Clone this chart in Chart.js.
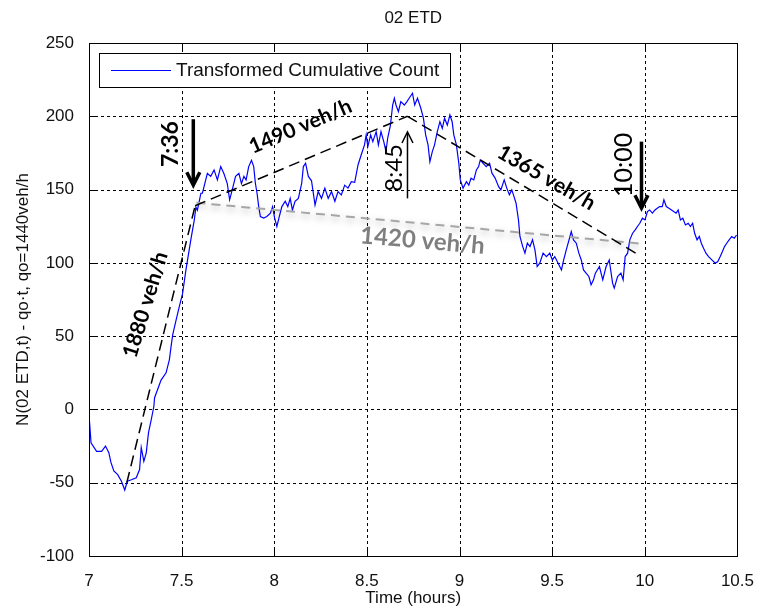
<!DOCTYPE html>
<html><head><meta charset="utf-8">
<script src="https://cdn.jsdelivr.net/npm/chart.js@4.4.1/dist/chart.umd.min.js"></script>
<style>html,body{margin:0;padding:0;background:#fff}#wrap{width:761px;height:610px}</style>
</head><body><div id="wrap"><canvas id="c" width="761" height="610"></canvas></div>
<script>
// ---- data ----
const hours = [7.000,7.002,7.011,7.041,7.068,7.089,7.107,7.118,7.134,7.155,
7.175,7.193,7.207,7.229,7.255,7.273,7.282,7.296,7.309,7.321,
7.336,7.350,7.354,7.389,7.416,7.434,7.443,7.452,7.470,7.487,
7.505,7.523,7.532,7.550,7.568,7.577,7.585,7.595,7.604,7.612,
7.621,7.630,7.639,7.657,7.675,7.693,7.711,7.728,7.746,7.759,
7.773,7.791,7.809,7.823,7.836,7.848,7.862,7.877,7.889,7.898,
7.907,7.916,7.925,7.943,7.960,7.979,7.991,8.002,8.014,8.027,
8.041,8.059,8.073,8.086,8.098,8.112,8.130,8.148,8.157,8.169,
8.184,8.201,8.220,8.237,8.255,8.273,8.291,8.309,8.327,8.344,
8.362,8.380,8.398,8.416,8.434,8.452,8.469,8.487,8.496,8.505,
8.520,8.532,8.550,8.562,8.576,8.591,8.603,8.612,8.627,8.639,
8.648,8.657,8.670,8.683,8.702,8.716,8.728,8.746,8.758,8.773,
8.791,8.805,8.817,8.830,8.840,8.853,8.865,8.880,8.894,8.907,
8.919,8.934,8.948,8.960,8.969,8.983,8.996,9.004,9.019,9.037,
9.050,9.062,9.077,9.091,9.103,9.112,9.126,9.144,9.162,9.175,
9.192,9.211,9.223,9.241,9.255,9.269,9.282,9.294,9.305,9.318,
9.326,9.341,9.353,9.366,9.380,9.394,9.407,9.419,9.433,9.451,
9.469,9.487,9.501,9.514,9.532,9.550,9.562,9.576,9.591,9.603,
9.615,9.630,9.644,9.657,9.669,9.683,9.698,9.710,9.723,9.733,
9.755,9.773,9.791,9.808,9.826,9.835,9.853,9.871,9.883,9.894,
9.907,9.919,9.934,9.948,9.960,9.973,9.987,10.001,10.014,10.026,
10.041,10.055,10.067,10.080,10.094,10.103,10.116,10.130,10.144,10.169,
10.180,10.192,10.205,10.219,10.234,10.246,10.258,10.269,10.282,10.294,
10.305,10.317,10.330,10.344,10.362,10.380,10.394,10.407,10.419,10.430,
10.442,10.455,10.469,10.483,10.495];
const counts = [-4,-7,-22.7,-28.6,-28.6,-25,-29.5,-36,-42,-44.5,
-49,-55,-49,-48,-46.6,-41,-26,-35.5,-29.6,-16,
-7,2,8,20,25,34,43,51,61,70,
79,95,102,116,129,138,136,142,147.5,147.5,
152,156.6,161,159,163.4,156.6,165.7,161,154.3,143,
149.8,159,161,154,159,156.6,165.7,170,165.7,154.3,
147.5,138.4,131.6,130.5,131.6,133.9,138.4,130.5,124.8,131.6,
138.4,142,138.4,144,136,142,144,154.3,165.7,168,
159,156,139.5,148.6,144,151,144,148.6,142,148.6,
146.4,153,151,155.4,155,166.8,173.6,180.5,187.3,179.3,
187.3,182.7,189.5,180.5,189.5,182.7,175.9,185,194,207.7,
212.3,207.7,203.2,210,207.7,210,212.3,215.7,207.7,212.3,
205.5,198.7,187.3,180.5,169,175.9,180.5,189.5,196.3,191.8,
198.7,194,200.9,196.3,187.3,180.5,168,156.6,151,155.4,
153,157.8,156.6,163.4,165.7,170.2,168,165.7,168,161.2,
157.8,152,149.8,156.6,151,146.4,149.8,145.2,140.7,129.3,
118,111.1,106.6,113.4,111.1,115.7,108.9,97.5,99.8,106.6,
104.3,106.6,102,104.3,99.8,95.2,102,108.9,115.7,121.4,
115.7,113.4,106.6,102,95.2,93,90.7,85,88.4,93,
97.5,88.4,97.5,102,86.2,82.8,90.7,93,88.4,104.3,
106.6,115.7,120.2,122.5,124.8,127,130.5,129.3,135,136.1,
133.9,136.1,137.3,138.4,138.4,143,138.4,137.3,136.1,133.9,
136.1,129.3,130.5,125.9,127,124.8,127,120.2,115.7,118,
113.4,110,106.6,104.3,102,99.8,100.9,104.3,107.7,111.1,
113.4,115.7,118,116.8,119];

const xTickValues = [7,7.5,8,8.5,9,9.5,10,10.5];
const xTickLabels = ['7','7.5','8','8.5','9','9.5','10','10.5'];
const yTickValues = [-100,-50,0,50,100,150,200,250];
const yTickLabels = ['-100','-50','0','50','100','150','200','250'];

// fitted flow lines (hours, counts)
const fit1880Hours = [7.204, 7.573], fit1880Counts = [-50, 139];
const fit1490Hours = [7.573, 8.719], fit1490Counts = [139, 200];
const fit1365Hours = [8.719, 9.951], fit1365Counts = [200, 106.6];
const fit1420Hours = [7.58, 9.99],   fit1420Counts = [141, 113];

const chartTitle = '02 ETD';
const xAxisTitle = 'Time (hours)';
const yAxisTitle = 'N(02 ETD,t) - qo\u00b7t, qo=1440veh/h';
const legendLabel = 'Transformed Cumulative Count';

const toPts = (h, c) => h.map((v, i) => ({x: v, y: c[i]}));

const AX = '"Liberation Sans", Arial, sans-serif';
const CAL = 'Lato, "Open Sans", sans-serif';

const deco = {
  id: 'deco',
  beforeDatasetsDraw(chart) {
    const {ctx, chartArea: a, scales: {x, y}} = chart;
    ctx.save();
    ctx.strokeStyle = '#000';
    ctx.lineWidth = 1;
    ctx.setLineDash([3, 3]);
    xTickValues.forEach(v => {
      if (v === 7 || v === 10.5) return;
      const px = Math.round(x.getPixelForValue(v)) + 0.5;
      ctx.beginPath(); ctx.moveTo(px, a.top); ctx.lineTo(px, a.bottom); ctx.stroke();
    });
    yTickValues.forEach(v => {
      if (v === -100 || v === 250) return;
      const py = Math.round(y.getPixelForValue(v)) + 0.5;
      ctx.beginPath(); ctx.moveTo(a.left, py); ctx.lineTo(a.right, py); ctx.stroke();
    });
    ctx.restore();
  },
  beforeDatasetDraw(chart, args) {
    if (args.index === 2) {
      const ctx = chart.ctx;
      ctx.save();
      ctx.shadowColor = 'rgba(0,0,0,0.35)';
      ctx.shadowBlur = 7;
      ctx.shadowOffsetY = 3;
    }
  },
  afterDatasetDraw(chart, args) {
    if (args.index === 2) chart.ctx.restore();
  },
  afterDatasetsDraw(chart) {
    const {ctx, chartArea: a, scales: {x, y}} = chart;
    ctx.save();
    // box
    ctx.strokeStyle = '#000';
    ctx.lineWidth = 1;
    ctx.setLineDash([]);
    ctx.strokeRect(Math.round(a.left) + 0.5, Math.round(a.top) + 0.5, Math.round(a.right - a.left), Math.round(a.bottom - a.top));
    // inward ticks
    const tl = 6;
    ctx.beginPath();
    xTickValues.forEach(v => {
      const px = Math.round(x.getPixelForValue(v)) + 0.5;
      ctx.moveTo(px, a.bottom); ctx.lineTo(px, a.bottom - tl);
      ctx.moveTo(px, a.top); ctx.lineTo(px, a.top + tl);
    });
    yTickValues.forEach(v => {
      const py = Math.round(y.getPixelForValue(v)) + 0.5;
      ctx.moveTo(a.left, py); ctx.lineTo(a.left + tl, py);
      ctx.moveTo(a.right, py); ctx.lineTo(a.right - tl, py);
    });
    ctx.stroke();

    // legend
    const lx = 99, ly = 53, lw = 351, lh = 34;
    ctx.fillStyle = '#fff';
    ctx.fillRect(lx, ly, lw, lh);
    ctx.strokeStyle = '#000';
    ctx.strokeRect(lx + 0.5, ly + 0.5, lw, lh);
    ctx.strokeStyle = '#0000ff';
    ctx.lineWidth = 1.2;
    ctx.beginPath(); ctx.moveTo(111, ly + 17.5); ctx.lineTo(171, ly + 17.5); ctx.stroke();
    ctx.fillStyle = '#111';
    ctx.font = '19px ' + AX;
    ctx.textAlign = 'left'; ctx.textBaseline = 'middle';
    ctx.fillText(legendLabel, 176, ly + 18);

    // arrows
    const arrow = (h, from, to, w, hw, hl) => {
      const px = x.getPixelForValue(h), p0 = y.getPixelForValue(from), p1 = y.getPixelForValue(to);
      const dir = p1 > p0 ? 1 : -1;
      ctx.strokeStyle = '#000'; ctx.lineWidth = w; ctx.lineCap = 'butt'; ctx.lineJoin = 'miter';
      ctx.beginPath(); ctx.moveTo(px, p0); ctx.lineTo(px, p1 - dir * w * 0.6); ctx.stroke();
      ctx.beginPath(); ctx.moveTo(px - hw, p1 - dir * hl); ctx.lineTo(px, p1); ctx.lineTo(px + hw, p1 - dir * hl); ctx.stroke();
    };
    arrow(7.563, 198, 153, 3.5, 6.5, 13);
    arrow(9.982, 182.7, 137.3, 3.5, 6.5, 13);
    arrow(8.719, 144, 189.3, 1.5, 5.5, 11);

    // labels
    const label = (txt, h, c, deg, font, color) => {
      ctx.save();
      ctx.translate(x.getPixelForValue(h), y.getPixelForValue(c));
      ctx.rotate(deg * Math.PI / 180);
      ctx.font = font; ctx.fillStyle = color;
      ctx.textAlign = 'center'; ctx.textBaseline = 'middle';
      ctx.fillText(txt, 0, 0);
      ctx.restore();
    };
    label('7:36', 7.442, 181, -90, 'bold 23px ' + CAL, '#000');
    label('8:45', 8.650, 164.8, -90, '24px ' + CAL, '#000');
    label('10:00', 9.887, 166.8, -90, '25px ' + CAL, '#000');
    label('1880 veh/h', 7.305, 71.4, -73, 'bold 21px ' + CAL, '#000');
    label('1490 veh/h', 8.141, 193, -23, 'bold 21px ' + CAL, '#000');
    label('1365 veh/h', 9.469, 158, 30, 'bold 21px ' + CAL, '#000');
    label('1420 veh/h', 8.80, 115, 5, 'bold 24px ' + CAL, '#7f7f7f');

    // titles
    const cx = (a.left + a.right) / 2;
    ctx.fillStyle = '#111';
    ctx.font = '17px ' + AX;
    ctx.textAlign = 'center'; ctx.textBaseline = 'middle';
    ctx.fillText(chartTitle, cx, 18);
    ctx.fillText(xAxisTitle, cx, 598);
    ctx.save();
    ctx.translate(23, (a.top + a.bottom) / 2);
    ctx.rotate(-Math.PI / 2);
    ctx.fillText(yAxisTitle, 0, 0);
    ctx.restore();
    ctx.restore();
  }
};

new Chart(document.getElementById('c'), {
  type: 'line',
  data: {
    datasets: [
      {data: toPts(fit1880Hours, fit1880Counts), borderColor: '#000', borderWidth: 1.5, borderDash: [11, 6], pointRadius: 0, order: 0},
      {data: toPts(fit1490Hours, fit1490Counts), borderColor: '#000', borderWidth: 1.5, borderDash: [11, 6], pointRadius: 0, order: 0},
      {data: toPts(fit1420Hours, fit1420Counts), borderColor: '#a6a6a6', borderWidth: 2, borderDash: [9, 6], pointRadius: 0, order: 1},
      {data: toPts(fit1365Hours, fit1365Counts), borderColor: '#000', borderWidth: 1.5, borderDash: [11, 6], pointRadius: 0, order: 0},
      {label: legendLabel, data: toPts(hours, counts), borderColor: '#0000ff', borderWidth: 1.2, pointRadius: 0, tension: 0, order: 2}
    ]
  },
  options: {
    responsive: false, animation: false, devicePixelRatio: 1,
    layout: {padding: {left: 0, right: 19, top: 43, bottom: 0}},
    plugins: {legend: {display: false}, tooltip: {enabled: false}, title: {display: false}},
    scales: {
      x: {
        type: 'linear', min: 7, max: 10.5,
        afterBuildTicks: s => { s.ticks = xTickValues.map(v => ({value: v})); },
        afterFit: s => { s.height = 54; },
        grid: {display: false}, border: {display: false},
        ticks: {callback: (v, i) => xTickLabels[i], font: {family: AX, size: 17}, color: '#111', padding: 7, maxRotation: 0, autoSkip: false}
      },
      y: {
        type: 'linear', min: -100, max: 250,
        afterBuildTicks: s => { s.ticks = yTickValues.map(v => ({value: v})); },
        afterFit: s => { s.width = 89; },
        grid: {display: false}, border: {display: false},
        ticks: {callback: (v, i) => yTickLabels[i], font: {family: AX, size: 17}, color: '#111', padding: 7, autoSkip: false}
      }
    }
  },
  plugins: [deco]
});
</script></body></html>
